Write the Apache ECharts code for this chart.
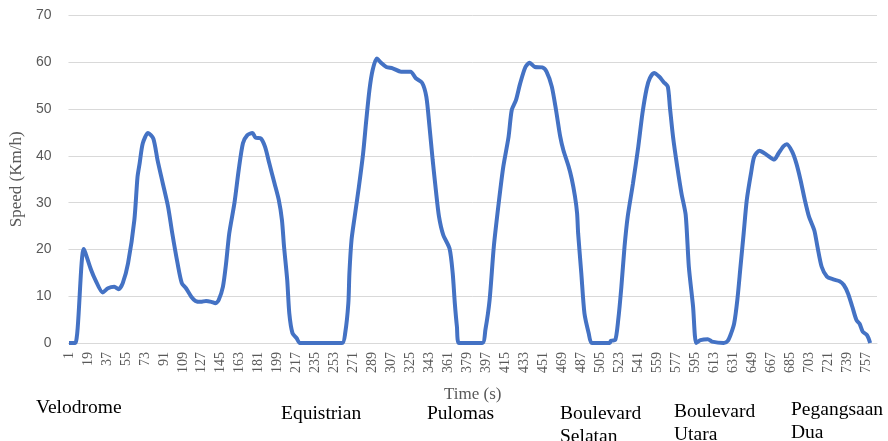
<!DOCTYPE html>
<html>
<head>
<meta charset="utf-8">
<script src="https://cdn.jsdelivr.net/npm/echarts@6/dist/echarts.min.js"></script>
<style>
  html, body { margin: 0; padding: 0; background: #fff; }
  #chart { width: 888px; height: 441px; }
</style>
</head>
<body>
<div id="chart"></div>
<script>
// time axis: one category per second
const lastSecond = 767;
const seconds = [];
for (let s = 1; s <= lastSecond; s++) seconds.push(String(s));

// speed at key times (s, km/h)
const sampleTime = [
  1, 7, 15, 22, 26, 33, 38, 44, 48, 52, 57, 63, 66, 68, 71, 76, 81, 85, 90, 95,
  99, 104, 108, 112, 117, 121, 126, 131, 136, 140, 143, 147, 150, 153, 158, 162, 166, 170, 175, 178,
  183, 187, 191, 196, 200, 203, 205, 208, 210, 213, 217, 220, 260, 263, 266, 267, 269, 272, 276, 280,
  283, 286, 289, 293, 297, 302, 308, 316, 325, 330, 336, 340, 343, 346, 349, 352, 356, 362, 365, 367,
  369, 371, 393, 396, 400, 404, 409, 413, 418, 421, 425, 429, 434, 438, 443, 450, 454, 459, 463, 467,
  470, 475, 478, 481, 483, 484, 487, 490, 494, 497, 514, 515, 519, 522, 525, 528, 531, 536, 541, 545,
  549, 552, 556, 561, 565, 569, 571, 574, 578, 582, 586, 589, 593, 596, 600, 607, 611, 622, 626, 629,
  632, 635, 638, 641, 644, 648, 651, 656, 663, 670, 674, 679, 682, 687, 691, 695, 699, 703, 708, 711,
  715, 720, 726, 732, 736, 740, 744, 748, 751, 754, 758, 761
];
const sampleSpeed = [
  0, 0, 20.1, 15.6, 13.5, 10.8, 11.7, 12.0, 11.5, 12.8, 17.0, 26.3, 35.5, 38.4, 42.7, 44.9, 43.7, 39.1, 34.1, 29.1,
  23.4, 17.0, 12.8, 11.7, 9.9, 9.0, 8.8, 9.0, 8.8, 8.5, 9.2, 12.0, 17.0, 23.4, 30.0, 37.0, 42.7, 44.4, 44.9, 43.9,
  43.7, 41.9, 38.4, 34.1, 30.6, 26.3, 20.6, 13.5, 6.3, 2.1, 1.0, 0, 0, 2.1, 8.5, 14.9, 22.0, 27.0, 33.4, 40.5,
  47.6, 54.1, 58.3, 60.8, 59.9, 59.0, 58.7, 58.0, 58.0, 56.6, 55.6, 52.6, 46.2, 39.1, 32.7, 27.0, 23.1, 20.2, 14.9, 8.5,
  3.5, 0, 0, 2.8, 9.2, 20.6, 30.6, 37.7, 44.1, 49.8, 51.9, 55.5, 59.0, 59.9, 59.0, 58.9, 58.0, 54.8, 49.8, 44.1,
  41.2, 37.7, 35.0, 31.3, 27.7, 23.4, 14.9, 6.3, 2.1, 0, 0, 0.5, 0.6, 4.9, 12.0, 20.6, 27.0, 34.1, 41.9, 49.1,
  54.4, 56.6, 57.7, 56.9, 55.8, 54.8, 50.5, 44.1, 37.7, 32.0, 27.4, 16.3, 7.8, 0, 0.6, 0.8, 0.3, 0, 0.5, 2.0,
  4.2, 9.2, 16.3, 23.4, 30.6, 36.3, 39.8, 41.1, 40.2, 39.2, 40.5, 42.1, 42.5, 40.9, 38.4, 34.8, 30.6, 27.0, 24.1, 20.6,
  16.3, 14.2, 13.6, 13.2, 12.4, 10.6, 7.8, 4.9, 4.1, 2.4, 1.7, 0
];

// station names under the axis
const stations = [
  { name: 'Velodrome', x: 36, y: 396 },
  { name: 'Equistrian', x: 281, y: 402 },
  { name: 'Pulomas', x: 427, y: 402 },
  { name: 'Boulevard\nSelatan', x: 560, y: 402 },
  { name: 'Boulevard\nUtara', x: 674, y: 400 },
  { name: 'Pegangsaan\nDua', x: 791, y: 398 }
];

const speedData = sampleTime.map((t, i) => [t - 1, sampleSpeed[i]]);

const chart = echarts.init(document.getElementById('chart'));

chart.setOption({
  animation: false,
  grid: { left: 62, right: 11, top: 15.5, bottom: 98 },
  xAxis: {
    type: 'category',
    data: seconds,
    boundaryGap: true,
    name: 'Time (s)',
    nameLocation: 'middle',
    nameGap: 43,
    nameTextStyle: { fontFamily: 'Liberation Serif', fontSize: 17, color: '#595959' },
    axisLine: { lineStyle: { color: '#d9d9d9', width: 1 } },
    axisTick: { show: false },
    axisLabel: {
      interval: 17,
      rotate: 90,
      margin: 9,
      fontFamily: 'Liberation Serif',
      fontSize: 14,
      color: '#595959'
    }
  },
  yAxis: {
    type: 'value',
    min: 0,
    max: 70,
    interval: 10,
    name: 'Speed (Km/h)',
    nameLocation: 'middle',
    nameGap: 39,
    nameTextStyle: { fontFamily: 'Liberation Serif', fontSize: 17, color: '#595959' },
    axisLine: { show: false },
    axisTick: { show: false },
    splitLine: { lineStyle: { color: '#d9d9d9', width: 1 } },
    axisLabel: {
      margin: 17,
      fontFamily: 'Liberation Sans',
      fontSize: 14,
      color: '#595959'
    }
  },
  series: [{
    type: 'line',
    data: speedData,
    smooth: 0.25,
    symbol: 'none',
    lineStyle: { color: '#4472C4', width: 4 }
  }],
  graphic: stations.map(s => ({
    type: 'text',
    left: s.x,
    top: s.y,
    style: {
      text: s.name,
      fontFamily: 'Liberation Serif',
      fontSize: 19.5,
      lineHeight: 23,
      fill: '#000'
    }
  }))
});
</script>
</body>
</html>
